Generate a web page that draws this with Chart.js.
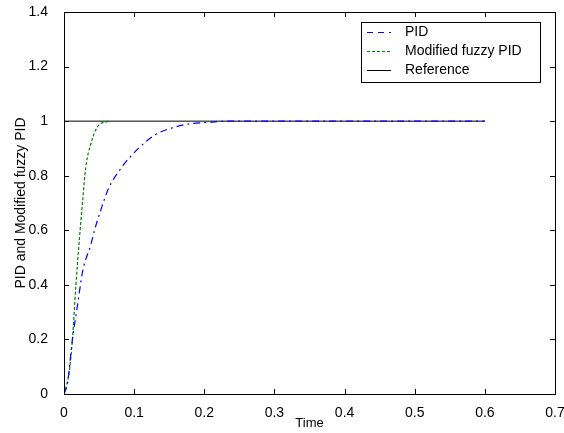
<!DOCTYPE html>
<html>
<head>
<meta charset="utf-8">
<script src="https://cdn.jsdelivr.net/npm/chart.js@4/dist/chart.umd.min.js"></script>
<style>
  html, body { margin: 0; padding: 0; background: #fff; }
  #wrap { width: 564px; height: 433px; position: relative; }
</style>
</head>
<body>
<div id="wrap"><canvas id="myChart" width="564" height="433"></canvas></div>
<script>
// ---- data ----
var pidTime  = [0, 0.005, 0.012, 0.019, 0.0266, 0.0386, 0.0435, 0.0507, 0.063, 0.082, 0.106, 0.13, 0.155, 0.179, 0.203, 0.237, 0.3, 0.4, 0.5, 0.6];
var pidValue = [0, 0.04, 0.2, 0.32, 0.45, 0.55, 0.6, 0.66, 0.75, 0.83, 0.9, 0.95, 0.976, 0.99, 0.995, 1.0, 1.0, 1.0, 1.0, 1.0];

var fuzzyTime  = [0, 0.0072, 0.012, 0.017, 0.0217, 0.0266, 0.031, 0.0386, 0.048, 0.063];
var fuzzyValue = [0, 0.076, 0.2, 0.4, 0.56, 0.71, 0.83, 0.92, 0.98, 1.0];

var refTime  = [0, 0.6];
var refValue = [1, 1];

var seriesNames = ["PID", "Modified fuzzy PID", "Reference"];
var xTicks = [0, 0.1, 0.2, 0.3, 0.4, 0.5, 0.6, 0.7];
var yTicks = [0, 0.2, 0.4, 0.6, 0.8, 1, 1.2, 1.4];

function toPoints(xs, ys) {
    var out = [];
    for (var i = 0; i < xs.length; i++) out.push({x: xs[i], y: ys[i]});
    return out;
}

var FONT = "'Liberation Sans', Arial, sans-serif";
var FS = 14;

// inward tick marks + box, like the matlab axes
var boxTicks = {
    id: "boxTicks",
    afterDraw: function (chart) {
        var ctx = chart.ctx, a = chart.chartArea;
        var xs = chart.scales.x, ys = chart.scales.y;
        ctx.save();
        ctx.strokeStyle = "#000";
        ctx.lineWidth = 1;
        ctx.beginPath();
        xTicks.forEach(function (v) {
            var p = Math.round(xs.getPixelForValue(v)) + 0.5;
            ctx.moveTo(p, a.bottom); ctx.lineTo(p, a.bottom - 5);
            ctx.moveTo(p, a.top); ctx.lineTo(p, a.top + 5);
        });
        yTicks.forEach(function (v) {
            var p = Math.round(ys.getPixelForValue(v)) + 0.5;
            ctx.moveTo(a.left, p); ctx.lineTo(a.left + 5, p);
            ctx.moveTo(a.right, p); ctx.lineTo(a.right - 5, p);
        });
        ctx.stroke();
        ctx.strokeRect(Math.round(a.left) + 0.5, Math.round(a.top) + 0.5,
                       Math.round(a.right - a.left), Math.round(a.bottom - a.top));

        // legend box inside the axes
        var lx = 361, ly = 22, lw = 179, lh = 60;
        ctx.fillStyle = "#fff";
        ctx.fillRect(lx, ly, lw, lh);
        ctx.strokeRect(lx + 0.5, ly + 0.5, lw, lh);
        ctx.font = FS + "px " + FONT;
        ctx.textBaseline = "middle";
        chart.data.datasets.forEach(function (ds, i) {
            var yy = ly + 10 + i * 19 + 0.5;
            ctx.strokeStyle = ds.borderColor;
            ctx.setLineDash(ds.legendDash);
            ctx.beginPath();
            ctx.moveTo(lx + 6, yy); ctx.lineTo(lx + 30, yy);
            ctx.stroke();
            ctx.setLineDash([]);
            ctx.fillStyle = "#000";
            ctx.fillText(ds.label, lx + 44, yy);
        });
        ctx.restore();
    }
};

var ctx = document.getElementById("myChart").getContext("2d");
var myChart = new Chart(ctx, {
    type: "line",
    data: {
        datasets: [{
            label: seriesNames[0],
            data: toPoints(pidTime, pidValue),
            borderColor: "#0000ff",
            borderWidth: 1.2,
            borderDash: [7, 4, 2, 4],
            legendDash: [6, 5],
            pointRadius: 0,
            cubicInterpolationMode: "monotone",
            order: 1
        }, {
            label: seriesNames[1],
            data: toPoints(fuzzyTime, fuzzyValue),
            borderColor: "#008000",
            borderWidth: 1.2,
            borderDash: [3, 2],
            legendDash: [3, 2],
            pointRadius: 0,
            cubicInterpolationMode: "monotone",
            order: 2
        }, {
            label: seriesNames[2],
            data: toPoints(refTime, refValue),
            borderColor: "#000000",
            borderWidth: 1,
            borderDash: [],
            legendDash: [],
            pointRadius: 0,
            order: 3
        }]
    },
    options: {
        responsive: false,
        animation: false,
        layout: { padding: { left: 0, right: 9, top: 12, bottom: 0 } },
        plugins: { legend: { display: false }, tooltip: { enabled: false } },
        scales: {
            x: {
                type: "linear",
                min: 0, max: 0.7,
                afterBuildTicks: function (s) { s.ticks = xTicks.map(function (v) { return {value: v}; }); },
                afterFit: function (s) { s.height = 39; s.paddingLeft = 0; s.paddingRight = 0; },
                grid: { display: false },
                border: { display: false },
                ticks: {
                    color: "#000", padding: 3,
                    font: { family: FONT, size: FS },
                    callback: function (v) { return String(+v.toFixed(1)); }
                },
                title: { display: true, text: "Time", color: "#000", padding: { top: 0, bottom: 2 },
                         font: { family: FONT, size: FS - 1 } }
            },
            y: {
                min: 0, max: 1.4,
                afterBuildTicks: function (s) { s.ticks = yTicks.map(function (v) { return {value: v}; }); },
                afterFit: function (s) { s.width = 64; s.paddingTop = 0; s.paddingBottom = 0; },
                grid: { display: false },
                border: { display: false },
                ticks: {
                    color: "#000", padding: 8,
                    font: { family: FONT, size: FS },
                    callback: function (v) { return String(+v.toFixed(1)); }
                },
                title: { display: true, text: "PID and Modified fuzzy PID", color: "#000",
                         padding: { top: 13, bottom: 0 },
                         font: { family: FONT, size: FS } }
            }
        }
    },
    plugins: [boxTicks]
});
</script>
</body>
</html>
